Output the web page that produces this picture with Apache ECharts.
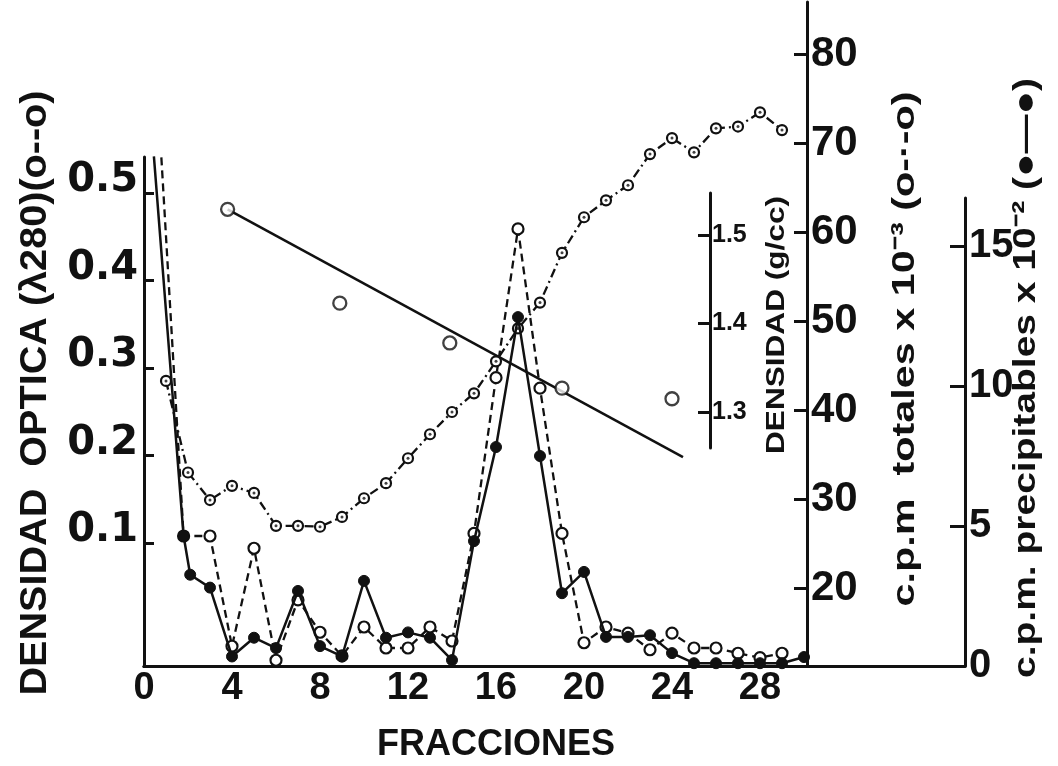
<!DOCTYPE html>
<html><head><meta charset="utf-8">
<script src="https://cdn.jsdelivr.net/npm/echarts@6/dist/echarts.min.js"></script>
<style>html,body{margin:0;padding:0;background:#fff}#c{width:1058px;height:766px}</style>
</head><body><div id="c"></div>
<script>
// ---- tick labels ----
const fraccionTicks = [0, 4, 8, 12, 16, 20, 24, 28];
const odTicks = [0.1, 0.2, 0.3, 0.4, 0.5];
const totalesTicks = [20, 30, 40, 50, 60, 70, 80];
const densidadTicks = [1.3, 1.4, 1.5];
const precipTicks = [0, 5, 10, 15];

// ---- series: [fraccion, value] ----
// Densidad optica (lambda 280), o--o dashed
const odData = [[0.65,0.60],[1.8,0.108],[3,0.108],[4,-0.018],[5,0.094],[6,-0.034],[7,0.035],[8,-0.002],[9,-0.029],[10,0.004],[11,-0.02],[12,-0.02],[13,0.004],[14,-0.012],[15,0.111],[16,0.289],[17,0.459],[18,0.277],[19,0.111],[20,-0.014],[21,0.004],[22,-0.003],[23,-0.022],[24,-0.003],[25,-0.02],[26,-0.02],[27,-0.026],[28,-0.031],[29,-0.026]];
// c.p.m. totales x 10^-3, o-.-o
const totalesData = [[1,43.3],[2,33.0],[3,29.9],[4,31.5],[5,30.7],[6,27.0],[7,27.0],[8,26.9],[9,28.0],[10,30.1],[11,31.8],[12,34.6],[13,37.3],[14,39.8],[15,41.9],[16,45.5],[17,49.2],[18,52.1],[19,57.7],[20,61.7],[21,63.6],[22,65.3],[23,68.8],[24,70.6],[25,69.0],[26,71.7],[27,71.9],[28,73.5],[29,71.5]];
// c.p.m. precipitables x 10^-2, filled circles, solid
const precipData = [[0.45,18.2],[1.8,4.64],[2.1,3.26],[3,2.8],[4,0.34],[5,1.01],[6,0.64],[7,2.68],[8,0.71],[9,0.34],[10,3.04],[11,1.01],[12,1.2],[13,1.01],[14,0.21],[15,4.46],[16,7.82],[17,12.46],[18,7.5],[19,2.6],[20,3.36],[21,1.04],[22,1.04],[23,1.1],[24,0.46],[25,0.1],[26,0.1],[27,0.1],[28,0.1],[29,0.1],[30,0.32]];
// Densidad (g/cc)
const densidadPuntos = [[3.8,1.529],[8.9,1.423],[13.9,1.378],[19,1.327],[24,1.315]];
const densidadRecta = [[3.8,1.529],[24.5,1.249]];

const FONT = '"Liberation Sans", Arial, sans-serif';
const ROUND = '"DejaVu Sans", "Liberation Sans", sans-serif';
const BLK = '#111';

const chart = echarts.init(document.getElementById('c'), null, {renderer: 'canvas'});
const mctx = document.createElement('canvas').getContext('2d');

const X0 = 144, PX = 22; // px per fraction
function grid(left, top, right, bottom) {
  return {left: left, top: top, width: right - left, height: bottom - top, containLabel: false, outerBoundsMode: 'none', show: false};
}
const AXLINE = {show: true, onZero: false, lineStyle: {color: BLK, width: 3}};
function xAx(gi, right, show) {
  return {type: 'value', gridIndex: gi, min: 0, max: (right - X0) / PX, show: show,
    axisLine: AXLINE, axisTick: {show: false}, splitLine: {show: false},
    axisLabel: {show: gi === 0, customValues: fraccionTicks, color: BLK, fontSize: 38, fontFamily: FONT, fontWeight: 'bold', margin: 4}};
}
function yAx(gi, pos, min, max, ticks, tickLen, label) {
  return {type: 'value', gridIndex: gi, position: pos, min: min, max: max, splitLine: {show: false},
    axisLine: AXLINE,
    axisTick: {show: true, inside: true, length: tickLen, customValues: ticks, lineStyle: {color: BLK, width: 3}},
    axisLabel: Object.assign({customValues: ticks, color: BLK, fontWeight: 'bold'}, label)};
}
function cut(data, max) {
  return data.map(p => p[1] > max ? {value: p, symbol: 'none'} : p);
}
function vname(text, cx, cy, size, len) {
  const font = 'bold ' + size + 'px ' + FONT;
  mctx.font = font;
  const w = mctx.measureText(text).width;
  return {type: 'text', x: cx, y: cy, rotation: Math.PI / 2, scaleX: len / w, scaleY: 1,
    style: {text: text, font: font, fill: BLK, align: 'center', verticalAlign: 'middle', textAlign: 'center', textVerticalAlign: 'middle'}};
}

const odMax = (630.5 - 157) / 875, odMin = (630.5 - 666) / 875;
const totMax = 50 + (321.3 - 2) / 8.893, totMin = 50 - (666 - 321.3) / 8.893;
const denMax = 1.5 + (235 - 193) / 885, denMin = 1.5 - (448 - 235) / 885;
const preMax = (666 - 198) / 28, preMin = 0;

const option = {
  animation: false,
  backgroundColor: '#fff',
  grid: [grid(144, 2, 807, 666), grid(144, 157, 807, 666), grid(144, 193, 710, 448), grid(144, 198, 965, 666)],
  xAxis: [xAx(0, 807, true), xAx(1, 807, false), xAx(2, 710, false), xAx(3, 965, true)],
  yAxis: [
    yAx(0, 'right', totMin, totMax, totalesTicks, 13, {fontSize: 42, fontFamily: FONT, margin: 4}),
    yAx(1, 'left', odMin, odMax, odTicks, 10, {fontSize: 40, fontFamily: ROUND, margin: 6, formatter: v => v.toFixed(1), verticalAlign: 'bottom', lineHeight: 24}),
    yAx(2, 'right', denMin, denMax, densidadTicks, 12, {fontSize: 25, fontFamily: FONT, margin: 2, formatter: v => v.toFixed(1)}),
    yAx(3, 'right', preMin, preMax, precipTicks, 15, {fontSize: 40, fontFamily: FONT, margin: 4})
  ],
  series: [
    {type: 'line', name: 'cpm totales', xAxisIndex: 0, yAxisIndex: 0, data: totalesData,
      symbol: 'circle', symbolSize: 10, showAllSymbol: true,
      itemStyle: {color: '#fff', borderColor: BLK, borderWidth: 2.2},
      lineStyle: {color: BLK, width: 2.3, type: [9, 4, 2, 4]}, z: 3},
    {type: 'scatter', name: 'cpm totales centro', xAxisIndex: 0, yAxisIndex: 0, data: totalesData,
      symbol: 'circle', symbolSize: 3, itemStyle: {color: BLK}, z: 4},
    {type: 'line', name: 'densidad optica', xAxisIndex: 1, yAxisIndex: 1, data: cut(odData, odMax),
      symbol: 'circle', symbolSize: 11, showAllSymbol: true,
      itemStyle: {color: '#fff', borderColor: BLK, borderWidth: 2.2},
      lineStyle: {color: BLK, width: 2.3, type: [8, 5]}, z: 3},
    {type: 'line', name: 'cpm precipitables', xAxisIndex: 3, yAxisIndex: 3, data: cut(precipData, preMax), clip: false,
      symbol: 'circle', symbolSize: 11, showAllSymbol: true,
      itemStyle: {color: BLK, borderColor: BLK, borderWidth: 1},
      lineStyle: {color: BLK, width: 2.5}, z: 5},
    {type: 'line', name: 'densidad recta', xAxisIndex: 2, yAxisIndex: 2, data: densidadRecta, clip: false,
      symbol: 'none', lineStyle: {color: BLK, width: 2.5}, z: 2},
    {type: 'scatter', name: 'densidad', xAxisIndex: 2, yAxisIndex: 2, data: densidadPuntos, clip: false,
      symbol: 'circle', symbolSize: 13, itemStyle: {color: '#fff', borderColor: BLK, borderWidth: 2.3}, z: 3}
  ],
  graphic: [
    vname('DENSIDAD  OPTICA (\u03bb280)(o--o)', 36, 393, 36, 605),
    vname('DENSIDAD (g/cc)', 777, 325, 26, 258),
    vname('c.p.m  totales x 10\u207b\u00b3 (o-\u00b7-o)', 905, 349, 32, 515),
    vname('c.p.m. precipitables x 10\u207b\u00b2 (\u25cf\u2014\u25cf)', 1026, 378, 32, 600),
    {type: 'text', x: 496, y: 745,
      style: {text: 'FRACCIONES', font: 'bold 36px ' + FONT, fill: BLK, align: 'center', verticalAlign: 'middle', textAlign: 'center', textVerticalAlign: 'middle'}}
  ]
};
chart.setOption(option);
</script>
</body></html>
